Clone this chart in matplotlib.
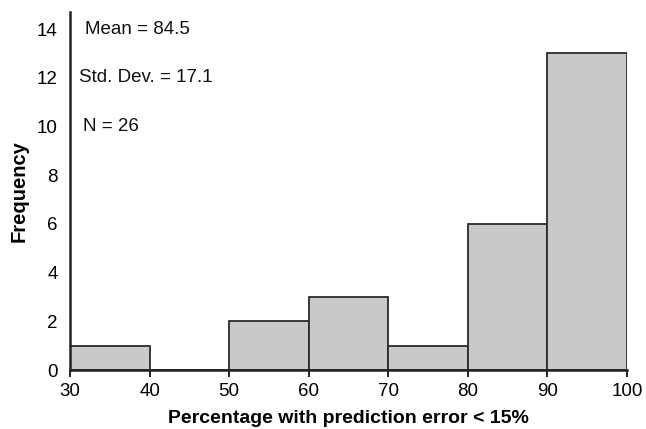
import numpy as np
import matplotlib.pyplot as plt

# histogram bins and counts
bin_edges = [30, 40, 50, 60, 70, 80, 90, 100]
counts = [1, 0, 2, 3, 1, 6, 13]
stats_text = ["Mean = 84.5", "Std. Dev. = 17.1", "N = 26"]
stats_x = [31.9, 31.1, 31.6]
stats_y = [14, 12, 10]

plt.rcParams['font.family'] = ['Liberation Sans', 'DejaVu Sans']

fig = plt.figure(figsize=(6.46, 4.29), dpi=100)
ax = fig.add_axes([0.1084, 0.1375, 0.8622, 0.8345])

lefts = np.array(bin_edges[:-1])
widths = np.diff(bin_edges)
ax.bar(lefts, counts, width=widths, align='edge', color='#c9c9c9',
       edgecolor='#2b2b2b', linewidth=1.3)

ax.set_xlim(30, 100)
ax.set_ylim(0, 14.7)
ax.set_xticks(bin_edges)
ax.set_yticks(range(0, 15, 2))

for s in ['top', 'right']:
    ax.spines[s].set_visible(False)
for s in ['left', 'bottom']:
    ax.spines[s].set_linewidth(1.8)
    ax.spines[s].set_color('#222222')

ax.tick_params(axis='y', length=0, pad=9, labelsize=13.5)
ax.tick_params(axis='x', length=5, width=1.2, direction='out', pad=4.5, labelsize=13.5)

for t, x, y in zip(stats_text, stats_x, stats_y):
    ax.text(x, y, t, fontsize=13.5, va='center', ha='left', color='#111111')

ax.set_xlabel('Percentage with prediction error < 15%', fontsize=14,
              fontweight='bold', labelpad=7)
ax.set_ylabel('Frequency', fontsize=14.5, fontweight='bold', labelpad=6)

fig.savefig('out.png', dpi=100)
